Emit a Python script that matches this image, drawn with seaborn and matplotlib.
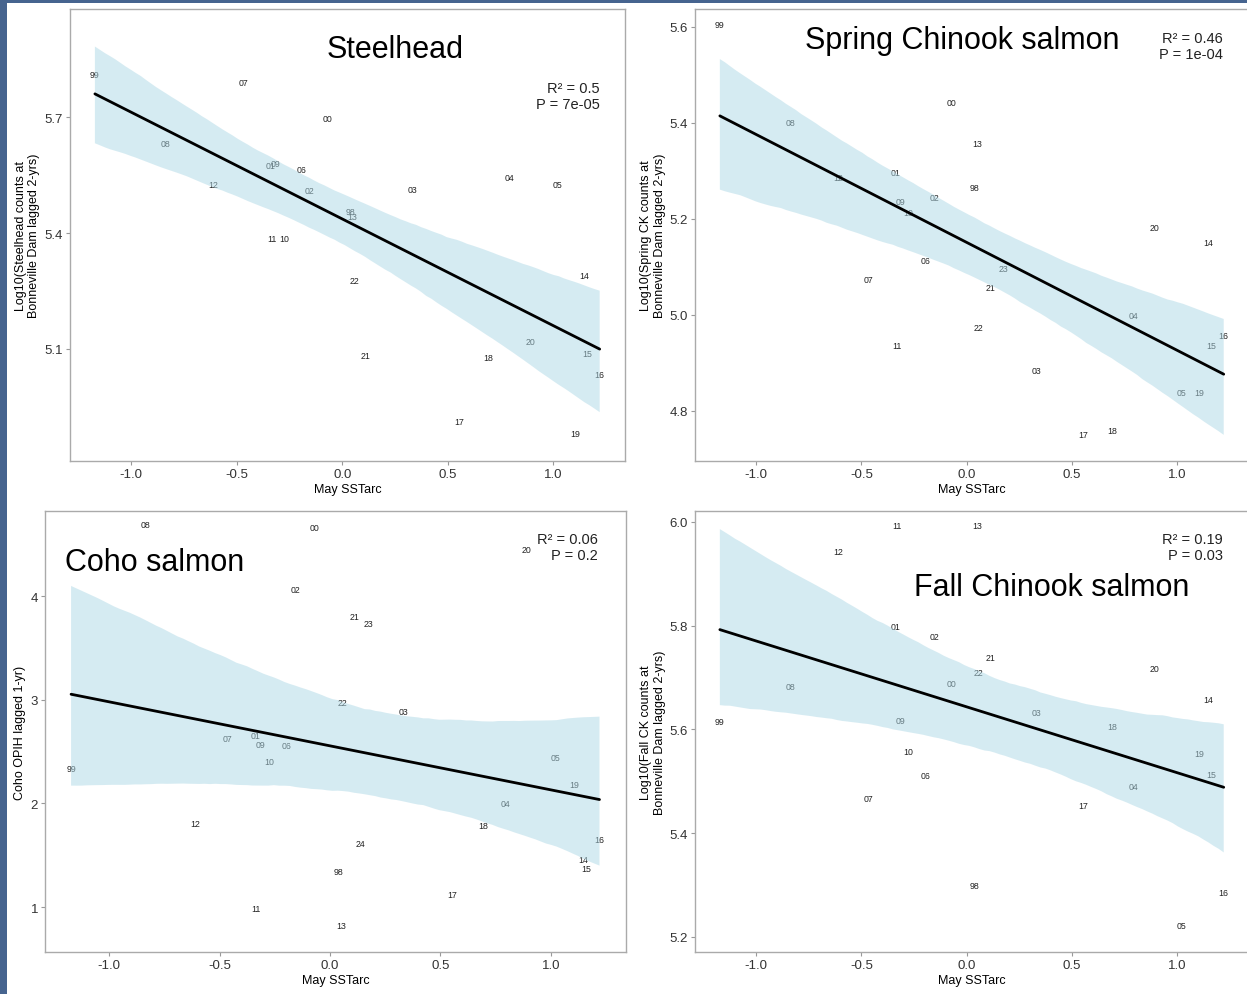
import numpy as np
import pandas as pd
import matplotlib
matplotlib.use("Agg")
import matplotlib.pyplot as plt
import seaborn as sns
from matplotlib.patches import Rectangle

# ---------------- data ----------------
sst_years = ["98", "99", "00", "01", "02", "03", "04", "05", "06", "07", "08", "09", "10",
             "11", "12", "13", "14", "15", "16", "17", "18", "19", "20", "21", "22", "23", "24"]
sst_x = [0.037, -1.172, -0.070, -0.338, -0.155, 0.331, 0.793, 1.019, -0.195, -0.466, -0.836,
         -0.314, -0.276, -0.333, -0.610, 0.049, 1.146, 1.161, 1.220, 0.555, 0.692, 1.104,
         0.891, 0.111, 0.056, 0.175, 0.137]

steelhead_years = sst_years[:25]
steelhead_y = [5.455, 5.810, 5.697, 5.575, 5.509, 5.514, 5.544, 5.525, 5.565, 5.790, 5.631,
               5.581, 5.386, 5.386, 5.525, 5.443, 5.290, 5.088, 5.034, 4.912, 5.078, 4.881,
               5.120, 5.084, 5.277]

spring_years = sst_years[:26]
spring_y = [5.265, 5.606, 5.443, 5.296, 5.245, 4.883, 4.999, 4.837, 5.113, 5.073, 5.401,
            5.237, 5.213, 4.935, 5.287, 5.358, 5.151, 4.936, 4.957, 4.751, 4.759, 4.837,
            5.181, 5.056, 4.974, 5.096]

coho_years = sst_years[:27]
coho_y = [1.344, 2.338, 4.662, 2.653, 4.058, 2.884, 1.994, 2.444, 2.556, 2.621, 4.685,
          2.572, 2.405, 0.981, 1.801, 0.820, 1.457, 1.373, 1.656, 1.125, 1.785, 2.186,
          4.447, 3.804, 2.974, 3.736, 1.614]

fall_years = sst_years[:25]
fall_y = [5.299, 5.616, 5.689, 5.799, 5.780, 5.633, 5.490, 5.222, 5.511, 5.466, 5.683,
          5.617, 5.558, 5.993, 5.943, 5.994, 5.657, 5.514, 5.286, 5.454, 5.605, 5.554,
          5.717, 5.739, 5.709]

titles = ["Steelhead", "Spring Chinook salmon", "Coho salmon", "Fall Chinook salmon"]
ylabels = ["Log10(Steelhead counts at\nBonneville Dam lagged 2-yrs)",
           "Log10(Spring CK counts at\nBonneville Dam lagged 2-yrs)",
           "Coho OPIH lagged 1-yr)",
           "Log10(Fall CK counts at\nBonneville Dam lagged 2-yrs)"]
stats_text = ["R\u00b2 = 0.5\nP = 7e-05", "R\u00b2 = 0.46\nP = 1e-04",
              "R\u00b2 = 0.06\nP = 0.2", "R\u00b2 = 0.19\nP = 0.03"]
xticks = [-1.0, -0.5, 0.0, 0.5, 1.0]
yticks_list = [[5.1, 5.4, 5.7], [4.8, 5.0, 5.2, 5.4, 5.6], [1, 2, 3, 4],
               [5.2, 5.4, 5.6, 5.8, 6.0]]
xlabel = "May SSTarc"

# ---------------- style ----------------
sns.set_style("white")
plt.rcParams["font.family"] = ["Liberation Sans", "DejaVu Sans"]
plt.rcParams["axes.unicode_minus"] = False

W, H = 1247, 995
fig = plt.figure(figsize=(W / 100, H / 100), dpi=100, facecolor="white")

def px_box(l, r, t, b):
    return [l / W, 1 - b / H, (r - l) / W, (b - t) / H]

boxes = [px_box(70, 625, 10, 462), px_box(695, 1249, 10, 462),
         px_box(45, 626, 512, 953), px_box(695, 1249, 512, 953)]
ylims = [(4.81, 5.98), (4.695, 5.6375), (0.566, 4.82), (5.171, 6.021)]
xlim = (-1.29, 1.34)
yfmt = ["%.1f", "%.1f", "%d", "%.1f"]

xmap = dict(zip(sst_years, sst_x))
series = [(steelhead_years, steelhead_y), (spring_years, spring_y),
          (coho_years, coho_y), (fall_years, fall_y)]

for i, (yrs, yv) in enumerate(series):
    ax = fig.add_axes(boxes[i])
    df = pd.DataFrame({"year": yrs, "x": [xmap[y] for y in yrs], "y": yv})
    for _, row in df.iterrows():
        ax.text(row["x"], row["y"], row["year"], ha="center", va="center",
                fontsize=6.3, color="#222222", zorder=1)
    sns.regplot(data=df, x="x", y="y", scatter=False, ci=95, n_boot=2000, seed=3,
                color="black", line_kws=dict(lw=2.0, zorder=4), ax=ax, truncate=True)
    for coll in ax.collections:
        coll.set_facecolor("#add8e6")
        coll.set_alpha(0.5)
        coll.set_edgecolor("none")
        coll.set_zorder(2)
    ax.set_xlim(*xlim)
    ax.set_ylim(*ylims[i])
    ax.set_xticks(xticks)
    ax.set_xticklabels(["%.1f" % t for t in xticks])
    ax.set_yticks(yticks_list[i])
    ax.set_yticklabels([yfmt[i] % t for t in yticks_list[i]])
    ax.set_xlabel(xlabel, fontsize=9, color="black", labelpad=2)
    ax.set_ylabel(ylabels[i], fontsize=9, color="black", labelpad=3)
    ax.tick_params(axis="both", direction="out", length=3, width=0.8, color="#999999",
                   labelsize=9.5, labelcolor="#333333", pad=2, bottom=True, left=True)
    for s in ax.spines.values():
        s.set_color("#aaaaaa")
        s.set_linewidth(1.0)
    ax.set_facecolor("white")

# titles
def ftext(x, y, s, **kw):
    fig.text(x / W, 1 - y / H, s, **kw)

ftext(395, 50, titles[0], ha="center", va="center", fontsize=22, color="black")
ftext(962, 41, titles[1], ha="center", va="center", fontsize=22, color="black")
ftext(65, 563, titles[2], ha="left", va="center", fontsize=22, color="black")
ftext(1052, 588, titles[3], ha="center", va="center", fontsize=22, color="black")

# stats
stat_pos = [(600, 97), (1223, 47), (598, 548), (1223, 548)]
for (x, y), s in zip(stat_pos, stats_text):
    ftext(x, y, s, ha="right", va="center", fontsize=10.5, color="#222222",
          linespacing=1.2)

# slide background strips
fig.patches.append(Rectangle((0, 0), 7 / W, 1, transform=fig.transFigure,
                             facecolor="#46648f", edgecolor="none", zorder=10))
fig.patches.append(Rectangle((0, 1 - 4 / H), 1, 4 / H, transform=fig.transFigure,
                             facecolor="#46648f", edgecolor="none", zorder=10))

fig.savefig("out.png", dpi=100, facecolor="white")
